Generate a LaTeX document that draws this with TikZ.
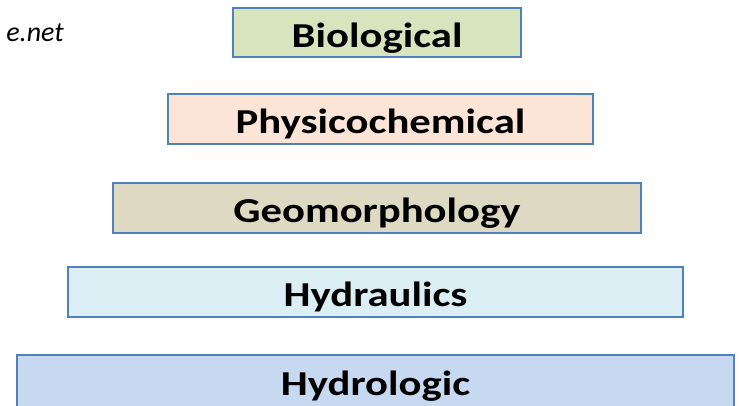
\documentclass[tikz,border=0pt]{standalone}
\usepackage{fontspec}
\setmainfont{Carlito}
\newfontfamily\layerfont[FakeStretch=1.22]{Carlito}
\usetikzlibrary{positioning}

\definecolor{edgeblue}{HTML}{4F81BD}
\definecolor{biofill}{HTML}{D7E4BD}
\definecolor{physfill}{HTML}{FCE4D6}
\definecolor{geofill}{HTML}{DDD9C3}
\definecolor{hydrafill}{HTML}{DBEEF4}
\definecolor{hydrofill}{HTML}{C6D9F1}

\tikzset{
  layer/.style={draw=edgeblue, line width=2pt, minimum height=50pt,
    inner sep=0pt, text height=32pt, text depth=3pt,
    font=\layerfont\bfseries\fontsize{35}{40}\selectfont},
}

\begin{document}
\begin{tikzpicture}[x=1pt, y=-1pt]
      \useasboundingbox (0,0) rectangle (740,405);

      \node[anchor=base east, inner sep=0pt, font=\itshape\fontsize{28}{32}\selectfont] (src) at (64,41) {e.net};

      \begin{scope}
        \node[layer, fill=biofill, minimum width=288pt, minimum height=49pt] (bio) at (377,32.5) {Biological};
        \node[layer, fill=physfill, minimum width=425pt] (phys) at (380.5,119) {Physicochemical};
        \node[layer, fill=geofill, minimum width=528pt] (geo) at (377,208) {Geomorphology};
        \node[layer, fill=hydrafill, minimum width=615pt] (hydra) at (375.5,292) {Hydraulics};
        \node[layer, fill=hydrofill, minimum width=717pt, minimum height=52pt] (hydro) at (375.5,381) {Hydrologic};
      \end{scope}
    \end{tikzpicture}
\end{document}
